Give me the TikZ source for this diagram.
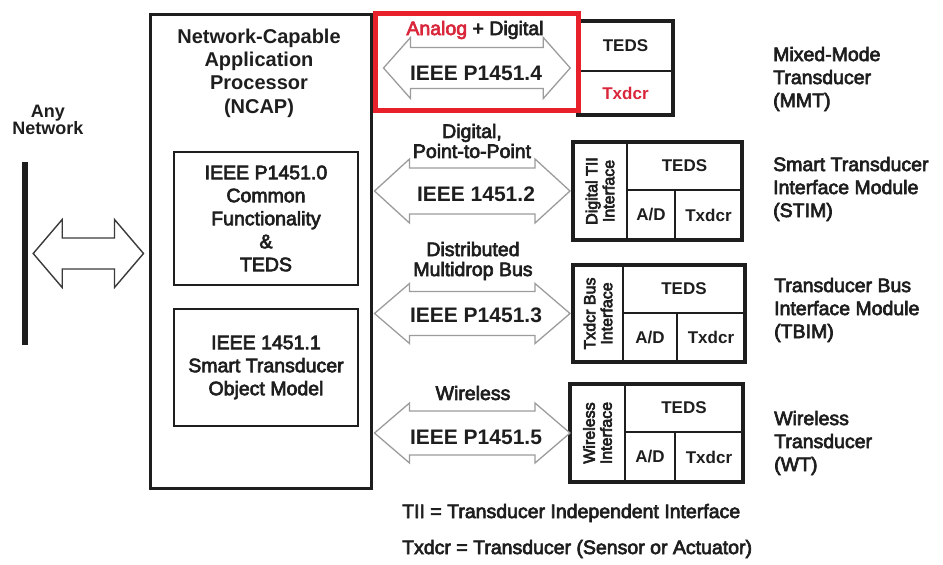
\documentclass[tikz,border=0pt]{standalone}
\usepackage{fontspec}
\setmainfont{Liberation Sans}
% medium weight: regular outlines filled and thinly stroked
\newcommand{\medfont}{\special{pdf:code 2 Tr 0.65 w}}
\usetikzlibrary{fit,calc}

\definecolor{ink}{HTML}{1E1E1E}
\definecolor{hlred}{HTML}{E8202A}
\definecolor{txtred}{HTML}{D9263A}
\definecolor{arrowgray}{HTML}{9C9C9C}
\definecolor{arrowdark}{HTML}{3A3A3A}

% hollow double-headed arrow between two anchors
% #1 style, #2 left anchor, #3 right anchor (gives the height),
% #4 left gap, #5 right gap, #6 head half width, #7 shaft half width, #8 head length
\newcommand{\dblarrow}[8]{%
  \path[#1] let \p1=(#2), \p2=(#3) in
    (\x1+#4pt,\y2)
    -- (\x1+#4pt+#8pt,\y2+#6pt) -- (\x1+#4pt+#8pt,\y2+#7pt)
    -- (\x2-#5pt-#8pt,\y2+#7pt) -- (\x2-#5pt-#8pt,\y2+#6pt)
    -- (\x2-#5pt,\y2)
    -- (\x2-#5pt-#8pt,\y2-#6pt) -- (\x2-#5pt-#8pt,\y2-#7pt)
    -- (\x1+#4pt+#8pt,\y2-#7pt) -- (\x1+#4pt+#8pt,\y2-#6pt)
    -- cycle;}

\begin{document}
\begin{tikzpicture}[x=1pt,y=-1pt,
  every node/.style={text=ink},
  ncapframe/.style={draw=ink, line width=3pt, inner sep=0pt},
  innerframe/.style={draw=ink, line width=2.6pt, inner sep=0pt},
  innertext/.style={align=center, inner sep=0pt,
    font=\medfont\fontsize{19.5}{23}\selectfont},
  modframe/.style={draw=ink, line width=4pt, inner sep=0pt},
  cellbox/.style={draw=ink, line width=1.8pt, inner sep=0pt},
  celltext/.style={inner sep=0pt, font=\bfseries\fontsize{17}{20}\selectfont},
  ifacetext/.style={rotate=90, align=center, inner sep=0pt,
    font=\medfont\fontsize{16}{17}\selectfont},
  sidelabel/.style={anchor=west, align=left, inner sep=0pt,
    font=\medfont\fontsize{19.5}{23}\selectfont},
  linklabel/.style={align=center, inner sep=0pt,
    font=\medfont\fontsize{19.5}{20}\selectfont},
  stdlabel/.style={inner sep=0pt, font=\bfseries\fontsize{21}{24}\selectfont},
  linkarrow/.style={draw=arrowgray, fill=white, line width=1.3pt, line join=miter},
  netarrow/.style={draw=arrowdark, fill=white, line width=1.4pt, line join=miter},
  legend/.style={anchor=west, inner sep=0pt, font=\medfont\fontsize{19.5}{22}\selectfont}
]
\useasboundingbox (0,0) rectangle (943,565);

% network bus
\node[fit={(22,162) (28,345)}, fill=ink, inner sep=0pt] (net) {};
\node[align=center, inner sep=0pt, font=\bfseries\fontsize{18}{16.5}\selectfont]
  (netname) at (48,120) {Any\\Network};

% NCAP with its two inner blocks
\node[ncapframe, fit={(150,14) (371,488)}] (ncap) {};
\node[align=center, inner sep=0pt, font=\bfseries\fontsize{20}{23.3}\selectfont]
  (ncaptitle) at (259,73) {Network-Capable\\Application\\Processor\\(NCAP)};
\node[innerframe, fit={(174,152) (358,285)}] (common) {};
\node[innertext] (commontext) at (common.center)
  {IEEE P1451.0\\Common\\Functionality\\\&\\TEDS};
\node[innerframe, fit={(174,309) (358,426)}] (objmodel) {};
\node[innertext] (objmodeltext) at (objmodel.center)
  {IEEE 1451.1\\Smart Transducer\\Object Model};

% network link
\dblarrow{netarrow}{net.east}{ncap.west |- net.east}{5}{5}{34}{15.5}{29}

% Mixed-Mode Transducer
\node[cellbox, fit={(578,21) (673,71)}] (mmtteds) {};
\node[cellbox, fit={(578,71) (673,115)}] (mmttx) {};
\node[modframe, line width=3.5pt, fit={(578,21) (673,115)}] (mmt) {};
\node[celltext] (mmttedstext) at (mmtteds.center) {TEDS};
\node[celltext, text=txtred] (mmttxtext) at (mmttx.center) {Txdcr};

% STIM
\node[cellbox, fit={(573,142) (627,240)}] (stimif) {};
\node[cellbox, fit={(627,142) (742,190)}] (stimteds) {};
\node[cellbox, fit={(627,190) (675,240)}] (stimad) {};
\node[cellbox, fit={(675,190) (742,240)}] (stimtx) {};
\node[modframe, fit={(573,142) (742,240)}] (stim) {};
\node[ifacetext] (stimiftext) at (stimif.center) {Digital TII\\Interface};
\node[celltext] (stimtedstext) at (stimteds.center) {TEDS};
\node[celltext] (stimadtext) at (stimad.center) {A/D};
\node[celltext] (stimtxtext) at (stimtx.center) {Txdcr};

% TBIM
\node[cellbox, fit={(573,265) (623,362)}] (tbimif) {};
\node[cellbox, fit={(623,265) (745,313)}] (tbimteds) {};
\node[cellbox, fit={(623,313) (677,362)}] (tbimad) {};
\node[cellbox, fit={(677,313) (745,362)}] (tbimtx) {};
\node[modframe, fit={(573,265) (745,362)}] (tbim) {};
\node[ifacetext] (tbimiftext) at (tbimif.center) {Txdcr Bus\\Interface};
\node[celltext] (tbimtedstext) at (tbimteds.center) {TEDS};
\node[celltext] (tbimadtext) at (tbimad.center) {A/D};
\node[celltext] (tbimtxtext) at (tbimtx.center) {Txdcr};

% Wireless Transducer
\node[cellbox, fit={(570,384) (625,482)}] (wtif) {};
\node[cellbox, fit={(625,384) (743,432)}] (wtteds) {};
\node[cellbox, fit={(625,432) (675,482)}] (wtad) {};
\node[cellbox, fit={(675,432) (743,482)}] (wttx) {};
\node[modframe, fit={(570,384) (743,482)}] (wt) {};
\node[ifacetext] (wtiftext) at (wtif.center) {Wireless\\Interface};
\node[celltext] (wttedstext) at (wtteds.center) {TEDS};
\node[celltext] (wtadtext) at (wtad.center) {A/D};
\node[celltext] (wttxtext) at (wttx.center) {Txdcr};

% links from the NCAP to each transducer
\dblarrow{linkarrow}{ncap.east |- mmt.west}{mmt.west}{11}{6}{30.5}{20.5}{27}
\dblarrow{linkarrow}{ncap.east |- stim.west}{stim.west}{2}{1}{32}{23}{35}
\dblarrow{linkarrow}{ncap.east |- tbim.west}{tbim.west}{2}{1}{30}{22}{35}
\dblarrow{linkarrow}{ncap.east |- wt.west}{wt.west}{2}{-2}{30}{22}{35}

% link labels
\node[linklabel] (mmtkind) at (475,30) {\textcolor{txtred}{Analog} + Digital};
\node[stdlabel] (mmtstd) at (476,73) {IEEE P1451.4};
\node[linklabel] (stimkind) at (472,141) {Digital,\\Point-to-Point};
\node[stdlabel] (stimstd) at (476,194) {IEEE 1451.2};
\node[linklabel] (tbimkind) at (473,261) {Distributed\\Multidrop Bus};
\node[stdlabel] (tbimstd) at (476,315) {IEEE P1451.3};
\node[linklabel] (wtkind) at (473,393) {Wireless};
\node[stdlabel] (wtstd) at (476,437) {IEEE P1451.5};

% transducer names
\node[sidelabel] (mmtname) at (773,79) {Mixed-Mode\\Transducer\\(MMT)};
\node[sidelabel] (stimname) at (773,189) {Smart Transducer\\Interface Module\\(STIM)};
\node[sidelabel] (tbimname) at (774,310) {Transducer Bus\\Interface Module\\(TBIM)};
\node[sidelabel] (wtname) at (774,443) {Wireless\\Transducer\\(WT)};

% abbreviations
\node[legend] (tiinote) at (402,513) {TII = Transducer Independent Interface};
\node[legend] (txnote) at (402,549) {Txdcr = Transducer (Sensor or Actuator)};

% highlight around the P1451.4 link
\node[draw=hlred, line width=5pt, inner sep=0pt, fit={(375,13) (578,110)}] (focus) {};
\end{tikzpicture}
\end{document}
